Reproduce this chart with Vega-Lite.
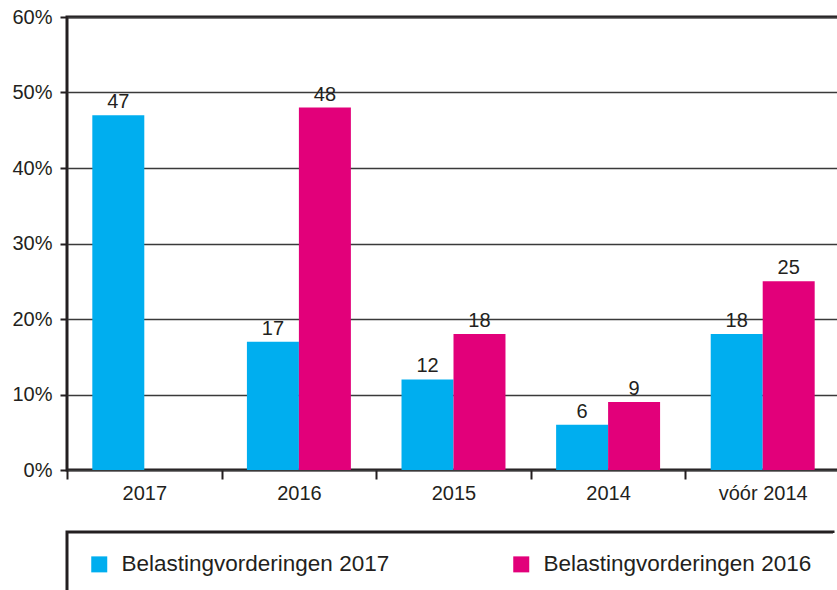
{
  "$schema": "https://vega.github.io/schema/vega-lite/v6.json",
  "autosize": "none",
  "width": 773,
  "height": 453,
  "padding": {"left": 67, "top": 17, "right": 0, "bottom": 120},
  "background": "white",
  "config": {
    "font": "Liberation Sans",
    "view": {"stroke": "#231f20", "strokeWidth": 3},
    "axis": {"labelColor": "#231f20", "labelFontSize": 20, "labelFont": "Liberation Sans", "titleColor": "#231f20"},
    "legend": {"strokeColor": "#231f20", "strokeWidth": 3, "padding": 21, "strokeDash": [767, 200, 3000]}
  },
  "data": {
    "values": [
      {"cat": "2017", "series": "Belastingvorderingen 2017", "value": 47},
      {"cat": "2016", "series": "Belastingvorderingen 2017", "value": 17},
      {"cat": "2016", "series": "Belastingvorderingen 2016", "value": 48},
      {"cat": "2015", "series": "Belastingvorderingen 2017", "value": 12},
      {"cat": "2015", "series": "Belastingvorderingen 2016", "value": 18},
      {"cat": "2014", "series": "Belastingvorderingen 2017", "value": 6},
      {"cat": "2014", "series": "Belastingvorderingen 2016", "value": 9},
      {"cat": "vóór 2014", "series": "Belastingvorderingen 2017", "value": 18},
      {"cat": "vóór 2014", "series": "Belastingvorderingen 2016", "value": 25}
    ]
  },
  "encoding": {
    "x": {
      "field": "cat", "type": "nominal",
      "sort": ["2017", "2016", "2015", "2014", "vóór 2014"],
      "scale": {"paddingInner": 0, "paddingOuter": 0},
      "axis": {"title": null, "labelAngle": 0, "domain": false, "tickBand": "extent", "tickSize": 9, "tickWidth": 2, "tickColor": "#231f20", "labelPadding": 4}
    },
    "xOffset": {
      "field": "series", "type": "nominal",
      "sort": ["Belastingvorderingen 2017", "Belastingvorderingen 2016"],
      "scale": {"paddingInner": 0, "paddingOuter": 0.487}
    },
    "y": {
      "field": "value", "type": "quantitative",
      "scale": {"domain": [0, 60], "nice": false},
      "axis": {"title": null, "values": [0, 10, 20, 30, 40, 50, 60], "labelExpr": "datum.value + '%'", "domain": false, "grid": true, "gridColor": "#3a3a3a", "gridWidth": 1.5, "tickSize": 7, "tickWidth": 2, "tickColor": "#231f20", "labelPadding": 8}
    }
  },
  "layer": [
    {
      "mark": {"type": "bar"},
      "encoding": {
        "color": {
          "field": "series", "type": "nominal",
          "sort": ["Belastingvorderingen 2017", "Belastingvorderingen 2016"],
          "scale": {"domain": ["Belastingvorderingen 2017", "Belastingvorderingen 2016"], "range": ["#00aeef", "#e2007a"]},
          "legend": {
            "title": null, "orient": "none", "legendX": 0, "legendY": 515,
            "direction": "horizontal", "columns": 2,
            "symbolType": "square", "symbolSize": 256, "symbolStrokeWidth": 0,
            "labelFontSize": 22.5, "labelColor": "#231f20", "labelFont": "Liberation Sans",
            "labelOffset": 11, "columnPadding": 120, "labelLimit": 500,
            "strokeColor": "#231f20"
          }
        }
      }
    },
    {
      "mark": {"type": "text", "baseline": "bottom", "dy": -3, "fontSize": 20, "color": "#231f20", "font": "Liberation Sans"},
      "encoding": {"text": {"field": "value", "type": "quantitative"}}
    }
  ]
}
